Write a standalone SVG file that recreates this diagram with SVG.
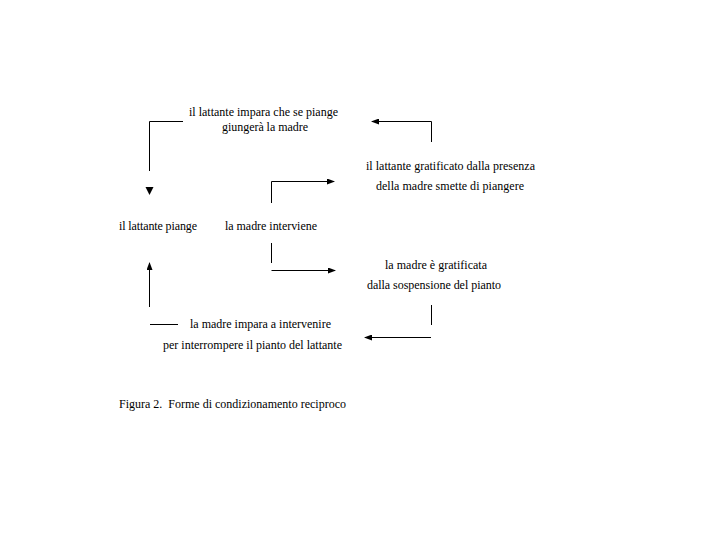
<svg xmlns="http://www.w3.org/2000/svg" width="720" height="540" viewBox="0 0 720 540">
<defs>
<marker id="ah" markerWidth="8" markerHeight="6" refX="7" refY="3" orient="auto" markerUnits="userSpaceOnUse">
<path d="M0,0 L8,3 L0,6 Z" fill="#000"/>
</marker>
<style>
.t{font-family:"Liberation Serif","Times New Roman",serif;font-size:12px;fill:#000}
.c{fill:none;stroke:#000;stroke-width:1}
</style>
</defs>
<rect width="720" height="540" fill="#fff"/>
<g id="connectors">
<path class="c" d="M183,121.5 H149.5 V171"/>
<path d="M145.5,187 L153.5,187 L149.5,195 Z" fill="#000"/>
<path class="c" d="M431.5,142 V121.5 H372" marker-end="url(#ah)"/>
<path class="c" d="M271.5,203 V181.5 H334" marker-end="url(#ah)"/>
<path class="c" d="M271.5,243 V263"/>
<path class="c" d="M271.5,270.5 H335" marker-end="url(#ah)"/>
<path class="c" d="M431.5,305 V325"/>
<path class="c" d="M431,337.5 H365" marker-end="url(#ah)"/>
<path class="c" d="M149.5,307 V263" marker-end="url(#ah)"/>
<path class="c" d="M150,324.5 H178"/>
</g>
<g id="node-apprende-lattante">
<text class="t" x="189" y="116" textLength="149" lengthAdjust="spacing">il lattante impara che se piange</text>
<text class="t" x="222" y="131" textLength="86" lengthAdjust="spacing">giungerà la madre</text>
</g>
<g id="node-lattante-gratificato">
<text class="t" x="366" y="170" textLength="169" lengthAdjust="spacing">il lattante gratificato dalla presenza</text>
<text class="t" x="376" y="190" textLength="148" lengthAdjust="spacing">della madre smette di piangere</text>
</g>
<g id="node-lattante-piange">
<text class="t" x="119" y="230" textLength="78" lengthAdjust="spacing">il lattante piange</text>
</g>
<g id="node-madre-interviene">
<text class="t" x="225" y="230" textLength="92" lengthAdjust="spacing">la madre interviene</text>
</g>
<g id="node-madre-gratificata">
<text class="t" x="385" y="269" textLength="102" lengthAdjust="spacing">la madre è gratificata</text>
<text class="t" x="367" y="289" textLength="134" lengthAdjust="spacing">dalla sospensione del pianto</text>
</g>
<g id="node-madre-impara">
<text class="t" x="190" y="328" textLength="141" lengthAdjust="spacing">la madre impara a intervenire</text>
<text class="t" x="163" y="349" textLength="179" lengthAdjust="spacing">per interrompere il pianto del lattante</text>
</g>
<g id="caption">
<text class="t" x="119" y="408" textLength="227" lengthAdjust="spacing">Figura 2.&#160; Forme di condizionamento reciproco</text>
</g>
</svg>
